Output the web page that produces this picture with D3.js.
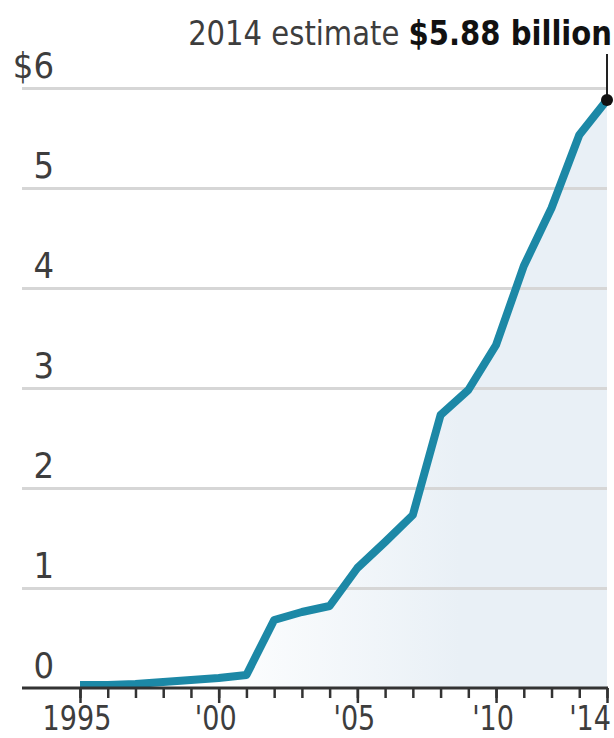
<!DOCTYPE html>
<html>
<head>
<meta charset="utf-8">
<script src="https://cdn.jsdelivr.net/npm/d3@7"></script>
<style>
  body { margin: 0; background: #fff; }
  svg text { font-family: "DejaVu Sans", sans-serif; fill: #3d3d3d; }
</style>
</head>
<body>
<script>
// annual revenue, $ billions (2014 = estimate)
var years = [1995, 1996, 1997, 1998, 1999, 2000, 2001, 2002, 2003, 2004,
             2005, 2006, 2007, 2008, 2009, 2010, 2011, 2012, 2013, 2014];
var revenue = [0.03, 0.03, 0.04, 0.06, 0.08, 0.10, 0.13, 0.68, 0.76, 0.82,
               1.20, 1.46, 1.73, 2.73, 2.98, 3.43, 4.22, 4.80, 5.53, 5.88];
var yTicks = [0, 1, 2, 3, 4, 5, 6];
var yTickLabels = ["0", "1", "2", "3", "4", "5", "$6"];
var xTicks = [1995, 2000, 2005, 2010, 2014];
var xTickLabels = ["1995", "'00", "'05", "'10", "'14"];

var data = years.map(function(d, i) { return {year: d, value: revenue[i]}; });

var W = 614, H = 738;
var left = 22;

var x = d3.scaleLinear().domain([1995, 2014]).range([80, 607]);
var y = d3.scaleLinear().domain([0, 6]).range([688, 88]);

var svg = d3.select("body").append("svg")
    .attr("width", W)
    .attr("height", H);

// soft fill under the line, fading in from the left
var grad = svg.append("defs").append("linearGradient")
    .attr("id", "fade")
    .attr("gradientUnits", "userSpaceOnUse")
    .attr("x1", 200).attr("x2", 460).attr("y1", 0).attr("y2", 0);
grad.append("stop").attr("offset", 0).attr("stop-color", "#ffffff");
grad.append("stop").attr("offset", 1).attr("stop-color", "#e9f0f6");

var area = d3.area()
    .x(function(d) { return x(d.year); })
    .y0(y(0))
    .y1(function(d) { return y(d.value); });

svg.append("path")
    .datum(data)
    .attr("fill", "url(#fade)")
    .attr("d", area);

// gridlines
svg.append("g")
    .attr("transform", "translate(" + x(2014) + ",0)")
    .call(d3.axisLeft(y).tickValues(yTicks.slice(1)).tickSize(x(2014) - left).tickFormat(""))
    .call(function(g) { g.select(".domain").remove(); })
    .call(function(g) { g.selectAll(".tick line").attr("stroke", "#d6d6d6").attr("stroke-width", 3); });

// y labels, right aligned above each gridline
svg.append("g").selectAll("text")
    .data(yTicks)
  .enter().append("text")
    .attr("transform", function(d) { return "translate(54," + (y(d) - 10) + ") scale(0.9,1)"; })
    .attr("text-anchor", "end")
    .style("font-size", "36px")
    .text(function(d, i) { return yTickLabels[i]; });

// line
var line = d3.line()
    .x(function(d) { return x(d.year); })
    .y(function(d) { return y(d.value); });

svg.append("path")
    .datum(data)
    .attr("fill", "none")
    .attr("stroke", "#1c88a6")
    .attr("stroke-width", 8)
    .attr("stroke-linejoin", "round")
    .attr("d", line);

// x axis: yearly minor ticks, longer ticks at labels
var xAxis = svg.append("g")
    .attr("transform", "translate(0," + y(0) + ")");

xAxis.call(d3.axisBottom(x).tickValues(years).tickSize(10).tickFormat(""))
    .call(function(g) { g.select(".domain").remove(); })
    .call(function(g) { g.selectAll(".tick line").attr("stroke", "#333").attr("stroke-width", 2.5); });

xAxis.append("g")
    .call(d3.axisBottom(x).tickValues(xTicks).tickSize(15).tickFormat(""))
    .call(function(g) { g.select(".domain").remove(); })
    .call(function(g) { g.selectAll(".tick line").attr("stroke", "#333").attr("stroke-width", 2.5); });

xAxis.append("line")
    .attr("x1", left)
    .attr("x2", x(2014) + 1)
    .attr("stroke", "#333")
    .attr("stroke-width", 3);

xAxis.selectAll("text.lbl")
    .data(xTicks)
  .enter().append("text")
    .attr("class", "lbl")
    .attr("transform", function(d, i) {
      var px = i === xTicks.length - 1 ? x(d) + 4 : x(d) - 3;
      return "translate(" + px + ",42) scale(0.82,1)";
    })
    .attr("text-anchor", function(d, i) { return i === xTicks.length - 1 ? "end" : "middle"; })
    .style("font-size", "33px")
    .text(function(d, i) { return xTickLabels[i]; });

// annotation for the 2014 estimate
var last = data[data.length - 1];
svg.append("line")
    .attr("x1", x(last.year))
    .attr("x2", x(last.year))
    .attr("y1", 54)
    .attr("y2", y(last.value))
    .attr("stroke", "#222")
    .attr("stroke-width", 2);

svg.append("circle")
    .attr("cx", x(last.year))
    .attr("cy", y(last.value))
    .attr("r", 6)
    .attr("fill", "#111");

var note = svg.append("text")
    .attr("text-anchor", "end")
    .style("font-size", "33px");
note.append("tspan").text("2014 estimate ");
note.append("tspan")
    .style("font-weight", "bold")
    .style("fill", "#111")
    .text("$" + d3.format(".2f")(last.value) + " billion");
// squeeze to the narrow width of the original type
var noteW = note.node().getComputedTextLength();
note.attr("transform", "translate(612,45) scale(" + (424 / noteW) + ",1)");
</script>
</body>
</html>
